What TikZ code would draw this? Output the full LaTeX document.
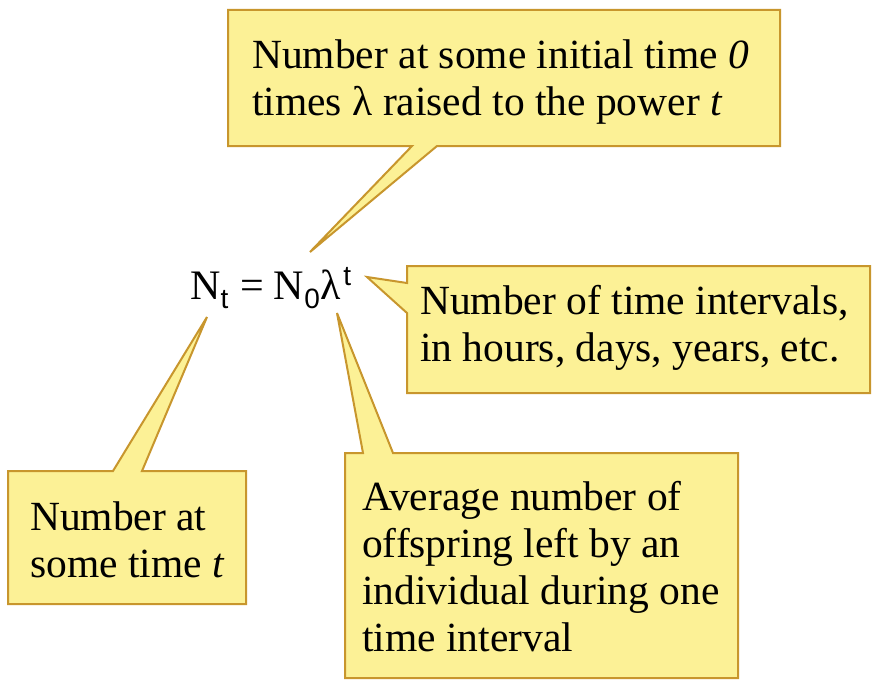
\documentclass[tikz,border=0pt]{standalone}
\usepackage{fontspec}
\setmainfont{Liberation Serif}
\newfontfamily\eqsans{Liberation Sans}
\definecolor{calloutfill}{RGB}{252,241,150}
\definecolor{calloutborder}{RGB}{200,150,45}
\newcommand{\boxfont}{\fontsize{41.5}{47}\selectfont}
\newcommand{\eqsub}[1]{\raisebox{-9pt}{\fontsize{28}{28}\eqsans #1}}
\newcommand{\eqsup}[1]{\raisebox{14pt}{\fontsize{28}{28}\eqsans #1}}
\begin{document}
\begin{tikzpicture}[x=1pt,y=-1pt,
  callout/.style={draw=calloutborder, fill=calloutfill, line width=2pt, line join=miter},
  boxtext/.style={align=left, anchor=west, inner sep=0pt, font=\boxfont}]
\useasboundingbox (0,0) rectangle (875,685);
\fill[white] (0,0) rectangle (875,685);
% tips
\coordinate (tipA) at (310,252);
\coordinate (tipB) at (367,277);
\coordinate (tipC) at (207,317);
\coordinate (tipD) at (337,313);
% callouts
\draw[callout] (228,10) -- (780,10) -- (780,146) -- (437,146) -- (tipA) -- (412,146) -- (228,146) -- cycle;
\draw[callout] (407,266) -- (870,266) -- (870,393) -- (407,393) -- (407,313) -- (tipB) -- (407,283) -- cycle;
\draw[callout] (8,471) -- (113,471) -- (tipC) -- (142,471) -- (246,471) -- (246,604) -- (8,604) -- cycle;
\draw[callout] (345,453) -- (363,453) -- (tipD) -- (393,453) -- (738,453) -- (738,678) -- (345,678) -- cycle;
% texts
\node[boxtext] (tA) at (252,82) {Number at some initial time \textit{0}\\times λ raised to the power \textit{t}};
\node[boxtext] (tB) at (420,328) {Number of time intervals,\\in hours, days, years, etc.};
\node[boxtext] (tC) at (30,540) {Number at\\some time \textit{t}};
\node[boxtext] (tD) at (362,567) {Average number of\\offspring left by an\\individual during one\\time interval};
% equation
\node[anchor=base west, inner sep=0pt, font=\fontsize{42}{44}\selectfont] (eq) at (190,299)
  {N\eqsub{t}\hspace{12pt}=\hspace{10pt}N\eqsub{0}\hspace{1pt}λ\hspace{2pt}\eqsup{t}};
\end{tikzpicture}
\end{document}
